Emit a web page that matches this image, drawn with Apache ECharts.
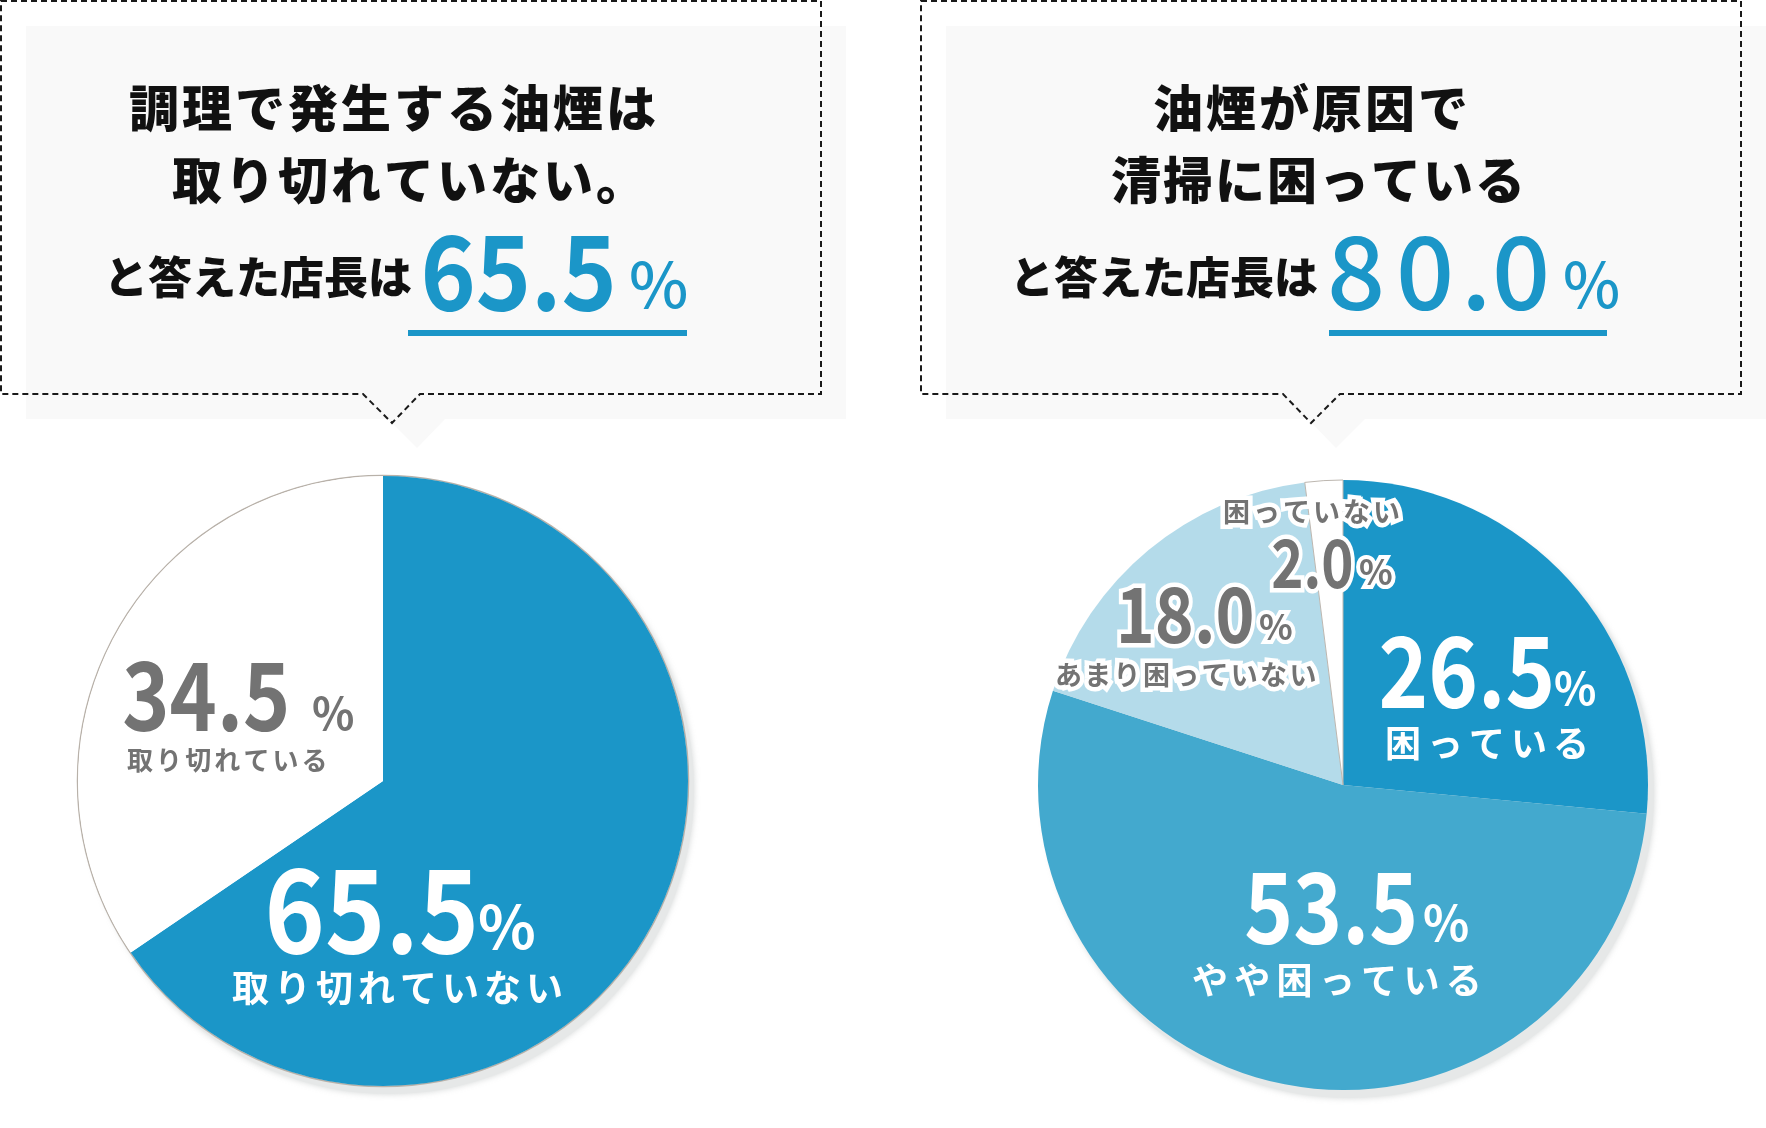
<!DOCTYPE html>
<html><head><meta charset="utf-8">
<script src="https://cdn.jsdelivr.net/npm/echarts@6/dist/echarts.min.js"></script>
<style>html,body{margin:0;padding:0;background:#fff}#c{width:1766px;height:1128px}</style>
</head><body><div id="c"></div>
<script>
// ---- data ----
const leftCategories = ['取り切れていない', '取り切れている'];
const leftValues = [65.5, 34.5];
const rightCategories = ['困っている', 'やや困っている', 'あまり困っていない', '困っていない'];
const rightValues = [26.5, 53.5, 18.0, 2.0];
const leftTitle = ['調理で発生する油煙は', '取り切れていない。'];
const rightTitle = ['油煙が原因で', '清掃に困っている'];
const answerText = 'と答えた店長は';
const leftHeadline = leftValues[0];                    // 65.5
const rightHeadline = rightValues[0] + rightValues[1]; // 80.0

// ---- style ----
const FF = '"Noto Sans CJK JP","Noto Sans",sans-serif';
const BLUE = '#1b96c8';
const leftColors = [BLUE, '#ffffff'];
const rightColors = [BLUE, '#43a9ce', '#b4dbea', '#ffffff'];
const GREY = '#737373';
const INK = '#111111';

const mctx = document.createElement('canvas').getContext('2d');
mctx.textAlign = 'left';
function fontStr(size, weight) { return weight + ' ' + size + 'px ' + FF; }

function textEl(text, x, y, font, color, z, outline, sx) {
  const els = [];
  const base = { x: x, y: y, scaleX: sx || 1, scaleY: 1, originX: 0, originY: 0, silent: true };
  if (outline) {
    els.push(Object.assign({ type: 'text', z: z }, base, {
      style: { text: text, font: font, fill: '#fff', stroke: '#fff', lineWidth: outline, lineJoin: 'round',
        textAlign: 'left', textVerticalAlign: 'middle' } }));
  }
  els.push(Object.assign({ type: 'text', z: z + 1 }, base, {
    style: { text: text, font: font, fill: color, textAlign: 'left', textVerticalAlign: 'middle' } }));
  return els;
}

// text placed char by char (letter spacing), left edge x0, vertical middle y
function spaced(text, x0, y, size, weight, color, pitchExtra, outline, z) {
  let els = [];
  const font = fontStr(size, weight);
  mctx.font = font;
  let x = x0;
  for (const ch of text) {
    const w = mctx.measureText(ch).width;
    els = els.concat(textEl(ch, x, y, font, color, z, outline, 1));
    x += w + pitchExtra;
  }
  return els;
}

// text fitted so that its ink spans [left, right] (right null: no scaling)
function fit(text, left, right, y, size, weight, color, outline, z) {
  const font = fontStr(size, weight);
  mctx.font = font;
  const m = mctx.measureText(text);
  const inkW = m.actualBoundingBoxRight + m.actualBoundingBoxLeft;
  const s = right == null ? 1 : (right - left) / inkW;
  const x = left + m.actualBoundingBoxLeft * s;
  return textEl(text, x, y, font, color, z, outline, s);
}

const fmt = v => v.toFixed(1);

// speech boxes
function box(x1, y1, x2, y2, nl, nt, nr, ny) {
  return [[x1, y1], [x2, y1], [x2, y2], [nr, y2], [nt, ny], [nl, y2], [x1, y2]];
}
function shift(pts, d) { return pts.map(p => [p[0] + d, p[1] + d]); }
const leftBox = box(1, 1, 821, 394, 363, 392, 420, 423);
const rightBox = box(921, 1, 1741, 394, 1283, 1311, 1340, 423);

let g = [];
[leftBox, rightBox].forEach(b => {
  g.push({ type: 'polygon', z: 0, silent: true, shape: { points: shift(b, 25) }, style: { fill: '#f9f9f9' } });
  g.push({ type: 'polygon', z: 1, silent: true, shape: { points: b },
    style: { fill: null, stroke: '#1a1a1a', lineWidth: 2, lineDash: [6, 4] } });
});

// titles
g = g.concat(spaced(leftTitle[0], 129, 108, 50, 900, INK, 3, 0, 5));
g = g.concat(spaced(leftTitle[1], 172, 180, 50, 900, INK, 3, 0, 5));
g = g.concat(spaced(answerText, 104, 277, 44, 900, INK, 0, 0, 5));
g = g.concat(fit(fmt(leftHeadline), 425, 612, 271, 104, 700, BLUE, 0, 5));
g = g.concat(fit('%', 631, 686, 284, 62, 500, BLUE, 0, 5));
g.push({ type: 'rect', z: 5, silent: true, shape: { x: 408, y: 330, width: 279, height: 6 }, style: { fill: BLUE } });

g = g.concat(spaced(rightTitle[0], 1153, 108, 50, 900, INK, 3, 0, 5));
g = g.concat(spaced(rightTitle[1], 1111, 180, 50, 900, INK, 2, 0, 5));
g = g.concat(spaced(answerText, 1010, 277, 44, 900, INK, 0, 0, 5));
const hb = [[1331, 1380], [1400, 1448], [1468, 1484], [1496, 1546]];
[...fmt(rightHeadline)].forEach((ch, i) => {
  g = g.concat(fit(ch, hb[i][0], null, 271, 102, 500, BLUE, 0, 5));
});
g = g.concat(fit('%', 1565, 1618, 284, 62, 500, BLUE, 0, 5));
g.push({ type: 'rect', z: 5, silent: true, shape: { x: 1329, y: 330, width: 278, height: 6 }, style: { fill: BLUE } });

// pie shadows / rims
const LC = [383, 781], RC = [1343, 785], R = 305;
[LC, RC].forEach(c => {
  g.push({ type: 'circle', z: 0, silent: true, shape: { cx: c[0] + 6, cy: c[1] + 8, r: R },
    style: { fill: '#e6e8e8', shadowBlur: 6, shadowColor: 'rgba(200,204,204,0.8)' } });
});
g.push({ type: 'circle', z: 1, silent: true, shape: { cx: LC[0], cy: LC[1], r: R + 0.5 },
  style: { fill: '#fff', stroke: '#b8b1a9', lineWidth: 1.5 } });

// pie labels (left)
g = g.concat(fit(fmt(leftValues[1]), 124, 286, 695, 95, 700, GREY, 0, 10));
g = g.concat(fit('%', 313, null, 713, 44, 700, GREY, 0, 10));
g = g.concat(spaced(leftCategories[1], 127, 760, 26, 700, GREY, 3.1, 0, 10));
g = g.concat(fit(fmt(leftValues[0]), 269, 474, 909, 115, 700, '#fff', 0, 10));
g = g.concat(fit('%', 479, null, 926, 60, 700, '#fff', 0, 10));
g = g.concat(spaced(leftCategories[0], 232, 988, 37, 700, '#fff', 5, 0, 10));

// pie labels (right)
g = g.concat(fit(fmt(rightValues[0]), 1381, 1551, 671, 98, 700, '#fff', 0, 10));
g = g.concat(fit('%', 1555, null, 688, 44, 700, '#fff', 0, 10));
g = g.concat(spaced(rightCategories[0], 1385, 743, 36, 700, '#fff', 6, 0, 10));
g = g.concat(fit(fmt(rightValues[1]), 1246, 1414, 907, 98, 700, '#fff', 0, 10));
g = g.concat(fit('%', 1424, null, 923, 48, 700, '#fff', 0, 10));
g = g.concat(spaced(rightCategories[1], 1192, 980, 36, 700, '#fff', 6.3, 0, 10));
g = g.concat(fit(fmt(rightValues[2]), 1121, 1252, 614, 76, 700, GREY, 9, 10));
g = g.concat(fit('%', 1260, null, 627, 35, 700, GREY, 8, 10));
g = g.concat(spaced(rightCategories[2], 1055, 675, 27, 700, GREY, 2.3, 9, 10));
g = g.concat(fit(fmt(rightValues[3]), 1273, 1352, 563, 66, 700, GREY, 9, 10));
g = g.concat(fit('%', 1360, null, 572, 35, 700, GREY, 8, 10));
g = g.concat(spaced(rightCategories[3], 1223, 512, 27, 700, GREY, 3, 9, 10));

const pieBase = {
  type: 'pie', radius: R, startAngle: 90, clockwise: true, silent: true, animation: false,
  label: { show: false }, labelLine: { show: false }, emphasis: { disabled: true }, z: 2
};

const chart = echarts.init(document.getElementById('c'), null, { renderer: 'canvas' });
chart.setOption({
  backgroundColor: '#ffffff',
  animation: false,
  graphic: { elements: g },
  series: [
    Object.assign({}, pieBase, {
      center: LC,
      data: leftCategories.map((n, i) => ({ name: n, value: leftValues[i], itemStyle: { color: leftColors[i], borderWidth: 0 } }))
    }),
    Object.assign({}, pieBase, {
      center: RC,
      data: rightCategories.map((n, i) => ({ name: n, value: rightValues[i],
        itemStyle: { color: rightColors[i], borderWidth: i === 3 ? 1 : 0, borderColor: '#bdb7b0' } }))
    })
  ]
});
</script></body></html>
